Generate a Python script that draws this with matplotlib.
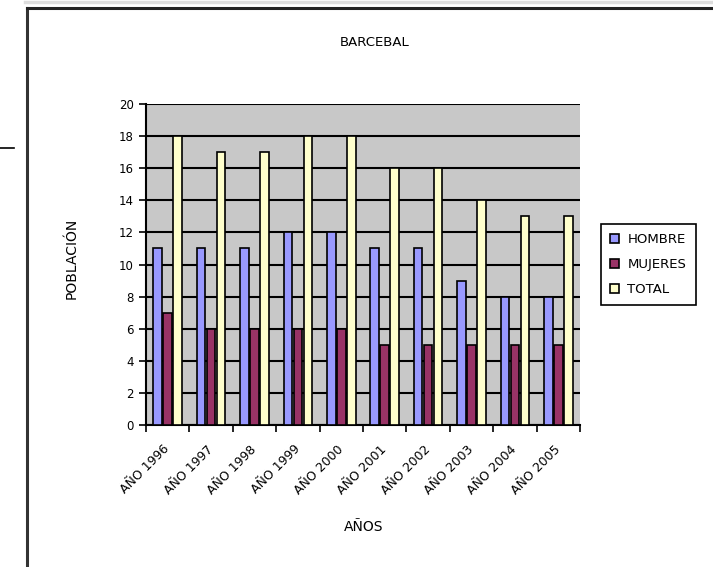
import numpy as np
import matplotlib
matplotlib.use('Agg')
import matplotlib.pyplot as plt
import matplotlib.transforms as mtransforms
from matplotlib.lines import Line2D

years = ['AÑO 1996', 'AÑO 1997', 'AÑO 1998', 'AÑO 1999', 'AÑO 2000',
         'AÑO 2001', 'AÑO 2002', 'AÑO 2003', 'AÑO 2004', 'AÑO 2005']
hombre = [11, 11, 11, 12, 12, 11, 11, 9, 8, 8]
mujeres = [7, 6, 6, 6, 6, 5, 5, 5, 5, 5]
total = [18, 17, 17, 18, 18, 16, 16, 14, 13, 13]

plt.rcParams['font.family'] = ['DejaVu Sans']

fig = plt.figure(figsize=(7.13, 5.67), dpi=100)
ax = fig.add_axes([146/713, 1-425/567, 434/713, 321/567])
ax.set_facecolor('#c8c8c8')

x = np.arange(len(years))
w = 0.2
ax.bar(x - 0.23, hombre, w, color='#9999ff', edgecolor='black', linewidth=1.2, label='HOMBRE', zorder=3)
ax.bar(x, mujeres, w, color='#993366', edgecolor='black', linewidth=1.2, label='MUJERES', zorder=3)
ax.bar(x + 0.23, total, w, color='#ffffcc', edgecolor='black', linewidth=1.2, label='TOTAL', zorder=3)

ax.set_xlim(-0.5, len(years) - 0.5)
ax.set_ylim(0, 20)
ax.set_yticks(range(0, 21, 2))
ax.yaxis.grid(True, color='black', linewidth=1.5, zorder=1)
ax.set_axisbelow(True)

ax.set_xticks(np.arange(-0.5, len(years), 1))
ax.set_xticklabels([])
ax.set_xticks(x, minor=True)
ax.set_xticklabels(years, minor=True, rotation=45, ha='right', va='center',
                   rotation_mode='anchor', fontsize=9)
shift = mtransforms.ScaledTranslation(-10/100, 0, fig.dpi_scale_trans)
for lab in ax.get_xticklabels(minor=True):
    lab.set_transform(lab.get_transform() + shift)
ax.tick_params(axis='x', which='minor', length=0, pad=16)
ax.tick_params(axis='x', which='major', length=5, width=1.2, direction='out')
ax.tick_params(axis='y', length=5, width=1.2, direction='out', labelsize=8.5, pad=4)

for s in ['top', 'right']:
    ax.spines[s].set_visible(False)
ax.spines['left'].set_linewidth(1.5)
ax.spines['bottom'].set_linewidth(1.5)

fig.text(375/713, 1-43/567, 'BARCEBAL', ha='center', va='center', fontsize=9.5)
fig.text(72/713, 1-258/567, 'POBLACIÓN', ha='center', va='center', rotation=90, fontsize=10)
fig.text(364/713, 1-527/567, 'AÑOS', ha='center', va='center', fontsize=10)

leg = fig.legend(loc='upper left', bbox_to_anchor=(601/713, 1-224/567), fontsize=9.5,
                 fancybox=False, edgecolor='black', framealpha=1,
                 handlelength=0.7, handleheight=0.7, handletextpad=0.6,
                 labelspacing=0.9, borderpad=0.7, borderaxespad=0)
leg.get_frame().set_linewidth(1.2)

# frame of the chart area
fig.add_artist(Line2D([27/713, 27/713], [0, 1-8/567], color='#333333', linewidth=2.2))
fig.add_artist(Line2D([27/713, 1], [1-8/567, 1-8/567], color='#222222', linewidth=2.2))
fig.add_artist(Line2D([25/713, 1], [1-1.5/567, 1-1.5/567], color='#dddddd', linewidth=2.5))
fig.add_artist(Line2D([0, 14/713], [1-148/567, 1-148/567], color='black', linewidth=1.2))

fig.savefig('out.png', dpi=100)
